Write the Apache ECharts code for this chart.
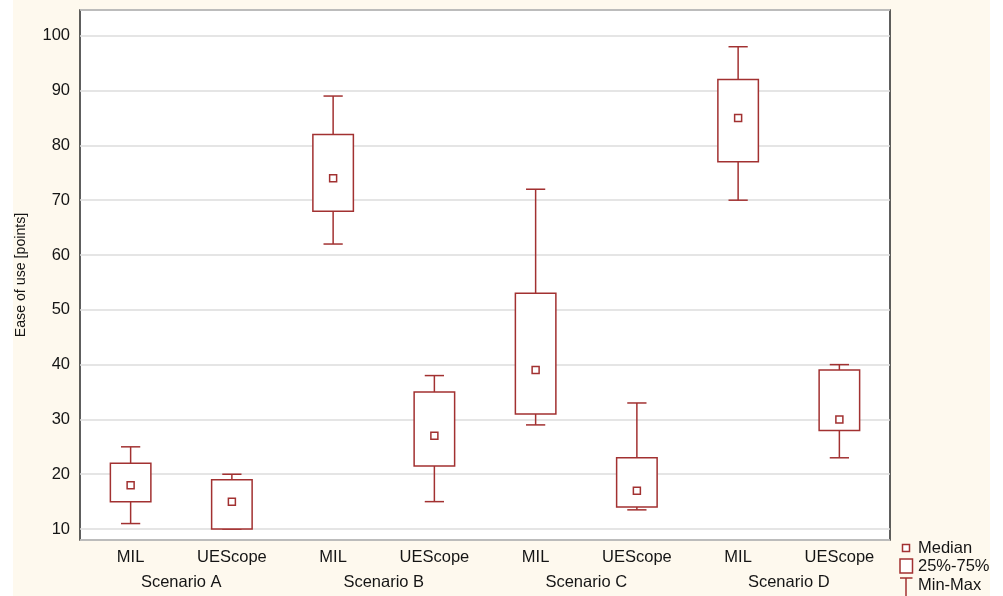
<!DOCTYPE html>
<html>
<head>
<meta charset="utf-8">
<script src="https://cdn.jsdelivr.net/npm/echarts@6/dist/echarts.min.js"></script>
<style>
  html, body { margin: 0; padding: 0; background: #fff; }
  #chart { width: 1003px; height: 596px; }
</style>
</head>
<body>
<div id="chart"></div>
<script>
// box plot data
const categories = ['MIL', 'UEScope', 'MIL', 'UEScope', 'MIL', 'UEScope', 'MIL', 'UEScope'];
const scenarios = ['Scenario A', 'Scenario B', 'Scenario C', 'Scenario D'];
const minVals = [11, 10, 62, 15, 29, 13.5, 70, 23];
const q1Vals = [15, 10, 68, 21.5, 31, 14, 77, 28];
const medianVals = [18, 15, 74, 27, 39, 17, 85, 30];
const q3Vals = [22, 19, 82, 35, 53, 23, 92, 39];
const maxVals = [25, 20, 89, 38, 72, 33, 98, 40];
const legendLabels = ['Median', '25%-75%', 'Min-Max'];

const RED = '#A23131';
const FONT = "'Liberation Sans', Arial, sans-serif";
const TXT = '#151515';
const FS = 16.5;

let chart = echarts.init(document.getElementById('chart'));

let boxData = categories.map((c, i) => [i, minVals[i], q1Vals[i], medianVals[i], q3Vals[i], maxVals[i]]);

function renderBox(params, api) {
    let idx = api.value(0);
    let band = api.size([1, 0])[0];
    let boxW = band * 0.4;
    let capW = band * 0.19;
    let pMin = api.coord([idx, api.value(1)]);
    let pQ1 = api.coord([idx, api.value(2)]);
    let pMed = api.coord([idx, api.value(3)]);
    let pQ3 = api.coord([idx, api.value(4)]);
    let pMax = api.coord([idx, api.value(5)]);
    let x = pMed[0];
    let lineStyle = {stroke: RED, lineWidth: 1.5, fill: null};
    return {
        type: 'group',
        children: [
            {type: 'line', shape: {x1: x, y1: pMax[1], x2: x, y2: pQ3[1]}, style: lineStyle},
            {type: 'line', shape: {x1: x, y1: pQ1[1], x2: x, y2: pMin[1]}, style: lineStyle},
            {type: 'line', shape: {x1: x - capW / 2, y1: pMax[1], x2: x + capW / 2, y2: pMax[1]}, style: lineStyle},
            {type: 'line', shape: {x1: x - capW / 2, y1: pMin[1], x2: x + capW / 2, y2: pMin[1]}, style: lineStyle},
            {type: 'rect', shape: {x: x - boxW / 2, y: pQ3[1], width: boxW, height: pQ1[1] - pQ3[1]},
                style: {stroke: RED, lineWidth: 1.5, fill: '#fff'}},
            {type: 'rect', shape: {x: x - 3.5, y: pMed[1] - 3.5, width: 7, height: 7},
                style: {stroke: RED, lineWidth: 1.5, fill: '#fff'}}
        ]
    };
}

let legendX = 906;
let option = {
    backgroundColor: '#fff',
    animation: false,
    grid: {
        left: 80, right: 113, top: 10, bottom: 56,
        show: true,
        backgroundColor: '#fff',
        borderColor: '#2a2a2a',
        borderWidth: 1.5
    },
    xAxis: [
        {
            type: 'category',
            data: categories,
            position: 'bottom',
            axisLine: {show: false},
            axisTick: {inside: true, alignWithLabel: true, length: 4, lineStyle: {color: '#2a2a2a', width: 1.5}},
            axisLabel: {margin: 9, fontSize: FS, color: TXT, fontFamily: FONT}
        },
        {
            type: 'category',
            data: categories,
            position: 'top',
            axisLine: {show: false},
            axisTick: {inside: true, alignWithLabel: true, length: 4, lineStyle: {color: '#2a2a2a', width: 1.5}},
            axisLabel: {show: false}
        },
        {
            type: 'category',
            data: scenarios,
            position: 'bottom',
            offset: 25,
            axisLine: {show: false},
            axisTick: {show: false},
            axisLabel: {margin: 9, fontSize: FS, color: TXT, fontFamily: FONT}
        }
    ],
    yAxis: [
        {
            type: 'value',
            min: 8,
            max: 104.7,
            splitNumber: 10,
            minInterval: 10,
            maxInterval: 10,
            name: 'Ease of use [points]',
            nameLocation: 'middle',
            nameGap: 52,
            nameTextStyle: {fontSize: 14.2, color: TXT, fontFamily: FONT},
            axisLine: {show: false},
            axisTick: {inside: true, length: 4, lineStyle: {color: '#2a2a2a', width: 1.5}},
            axisLabel: {showMinLabel: false, showMaxLabel: false, fontSize: FS, color: TXT, fontFamily: FONT, margin: 10},
            splitLine: {show: true, lineStyle: {color: '#dcdcdc', width: 1.5}}
        },
        {
            type: 'value',
            position: 'right',
            min: 8,
            max: 104.7,
            splitNumber: 10,
            minInterval: 10,
            maxInterval: 10,
            axisLine: {show: false},
            axisTick: {inside: true, length: 4, lineStyle: {color: '#2a2a2a', width: 1.5}},
            axisLabel: {show: false},
            splitLine: {show: false}
        }
    ],
    graphic: [
        {type: 'rect', z: -10, shape: {x: 13, y: 0, width: 977, height: 596}, style: {fill: '#FEF9EE'}},
        // legend
        {type: 'rect', shape: {x: legendX - 3.5, y: 544.5, width: 7, height: 7}, style: {stroke: RED, lineWidth: 1.5, fill: '#fff'}},
        {type: 'text', x: 918, y: 548, style: {text: legendLabels[0], fontSize: FS, fill: TXT, fontFamily: FONT, verticalAlign: 'middle'}},
        {type: 'rect', shape: {x: 900, y: 559, width: 12.5, height: 14}, style: {stroke: RED, lineWidth: 1.5, fill: '#fff'}},
        {type: 'text', x: 918, y: 566, style: {text: legendLabels[1], fontSize: FS, fill: TXT, fontFamily: FONT, verticalAlign: 'middle'}},
        {type: 'line', shape: {x1: 900, y1: 578, x2: 912.5, y2: 578}, style: {stroke: RED, lineWidth: 1.5}},
        {type: 'line', shape: {x1: legendX, y1: 578, x2: legendX, y2: 596}, style: {stroke: RED, lineWidth: 1.5}},
        {type: 'text', x: 918, y: 585, style: {text: legendLabels[2], fontSize: FS, fill: TXT, fontFamily: FONT, verticalAlign: 'middle'}}
    ],
    series: [{
        name: 'Ease of use',
        type: 'custom',
        xAxisIndex: 0,
        yAxisIndex: 0,
        renderItem: renderBox,
        encode: {x: 0, y: [1, 2, 3, 4, 5]},
        data: boxData,
        z: 5
    }]
};
chart.setOption(option);
</script>
</body>
</html>
